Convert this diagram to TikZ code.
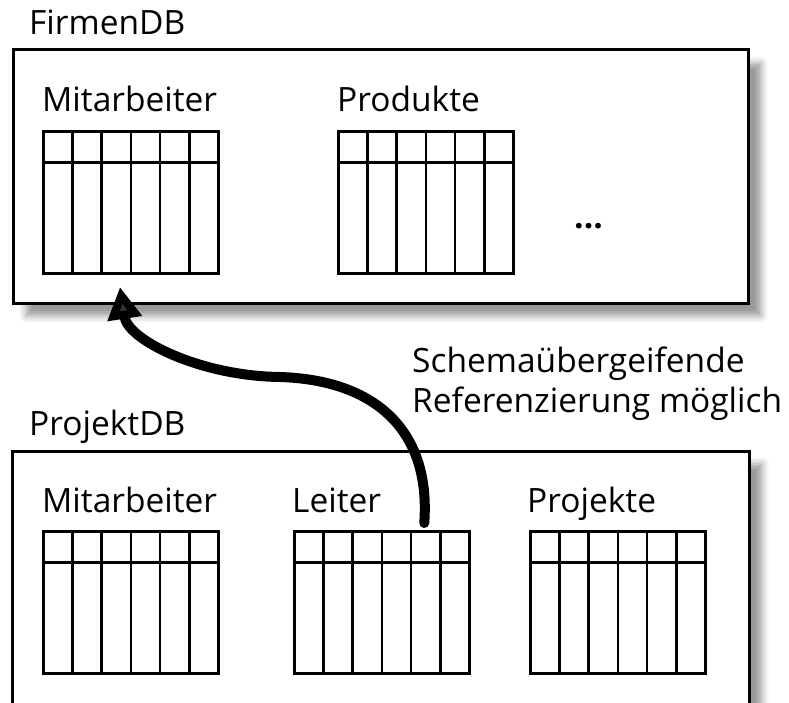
\documentclass[tikz,border=0pt]{standalone}
\usepackage{fontspec}
\setmainfont{Open Sans}
\usetikzlibrary{arrows.meta,shadows.blur}

\tikzset{
  lbl/.style={anchor=base west, inner sep=0pt, font=\fontsize{33.5}{40}\selectfont},
  dbbox/.style={draw, line width=3pt, fill=white,
    blur shadow={shadow xshift=13pt, shadow yshift=-13pt,
                 shadow blur radius=7pt, shadow opacity=40}},
  dbtable/.style={draw, line width=2.8pt, fill=white, inner sep=0pt,
    anchor=north west, minimum width=175pt, minimum height=142pt,
    path picture={
      \foreach \k in {1,...,5}
        \draw[line width=2.8pt]
          ([xshift=\k*175pt/6]path picture bounding box.north west) --
          ([xshift=\k*175pt/6]path picture bounding box.south west);
      \draw[line width=2.8pt]
        ([yshift=-31pt]path picture bounding box.north west) --
        ([yshift=-31pt]path picture bounding box.north east);
    }},
  refarrow/.style={line width=10pt, line cap=round,
    -{Triangle[length=32pt,width=33pt]}},
}

\begin{document}
\begin{tikzpicture}[x=1pt,y=-1pt]
  \useasboundingbox (0,0) rectangle (789,703);
  \clip (0,0) rectangle (789,703);

  % company database
  \node[lbl] (firmenlbl) at (29,35) {FirmenDB};
  \draw[dbbox] (13,50) rectangle (748,303);
  \node[lbl] (fmlbl) at (42,112) {Mitarbeiter};
  \node[dbtable] (fmit) at (42,130) {};
  \node[lbl] (fplbl) at (337,112) {Produkte};
  \node[dbtable] (fprod) at (337,130) {};
  \node[lbl, font=\fontsize{33.5}{40}\selectfont\bfseries] (dots) at (574,229) {...};

  % project database
  \node[lbl] (projlbl) at (29,435) {ProjektDB};
  \draw[dbbox] (12,451) rectangle (749,760);
  \node[lbl] (pmlbl) at (42,512) {Mitarbeiter};
  \node[dbtable] (pmit) at (42,530) {};
  \node[lbl] (pllbl) at (292,512) {Leiter};
  \node[dbtable] (pleit) at (293,530) {};
  \node[lbl] (pplbl) at (527,512) {Projekte};
  \node[dbtable] (pproj) at (529,530) {};

  % cross-schema reference
  \node[lbl] (note1) at (412,372) {Schemaübergeifende};
  \node[lbl] (note2) at (412,412) {Referenzierung möglich};

  \coordinate (src) at ([xshift=4.5*175pt/6, yshift=7pt]pleit.north west);
  \coordinate (tgt) at (120,287);
  \draw[refarrow] (src) .. controls (431,430) and (375,380) .. (280,377)
                        .. controls (200,376) and (128,340) .. (tgt);
\end{tikzpicture}
\end{document}
